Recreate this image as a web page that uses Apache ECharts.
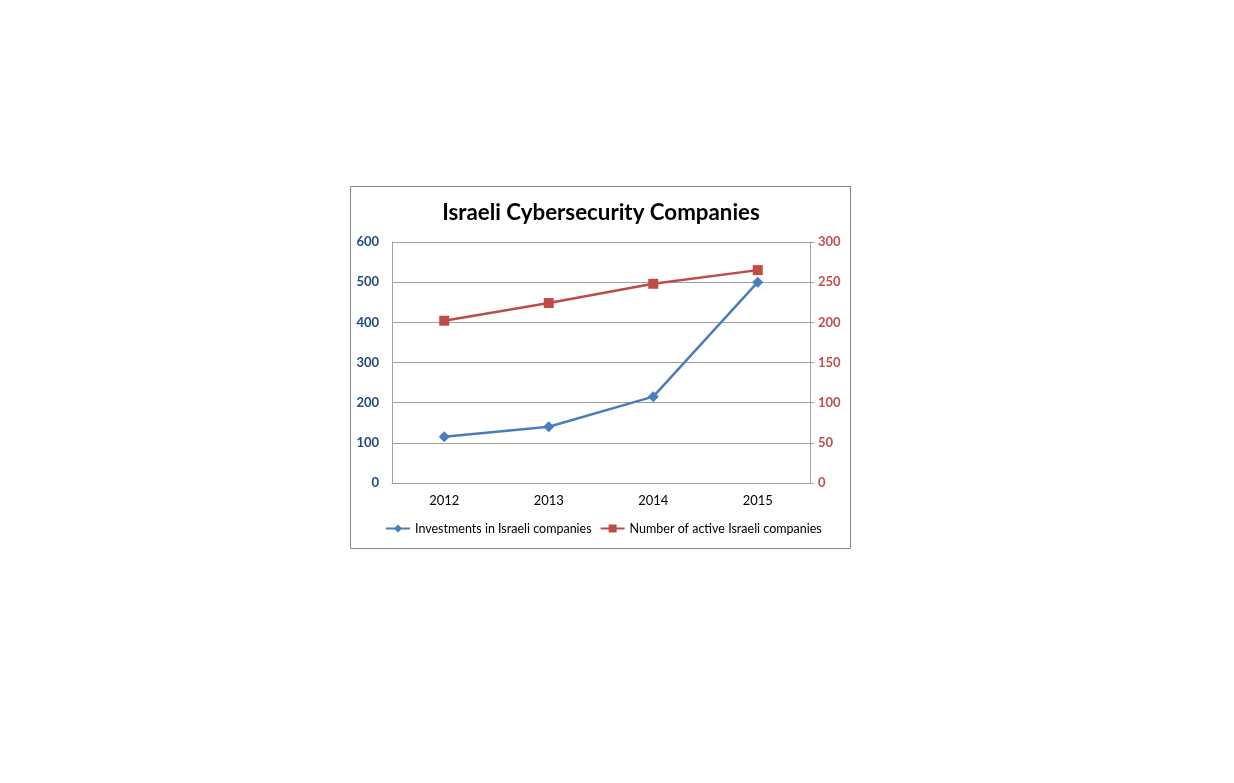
<!DOCTYPE html>
<html>
<head>
<meta charset="utf-8">
<script src="https://cdn.jsdelivr.net/npm/echarts@6/dist/echarts.min.js"></script>
<style>
  html, body { margin: 0; padding: 0; background: #fff; }
  #chart { width: 1234px; height: 783px; }
</style>
</head>
<body>
<div id="chart"></div>
<script>
'use strict';

var years = ['2012', '2013', '2014', '2015'];
var investments = [115, 140, 215, 500];
var activeCompanies = [202, 224, 248, 265];
var leftTicks = { min: 0, max: 600, interval: 100 };
var rightTicks = { min: 0, max: 300, interval: 50 };

var blue = '#4a7ebb';
var red = '#be4b48';
var font = 'Lato, "Open Sans", sans-serif';

var chart = echarts.init(document.getElementById('chart'));

chart.setOption({
  animation: false,
  backgroundColor: '#fff',
  textStyle: { fontFamily: font },
  graphic: [{
    type: 'rect',
    shape: { x: 350.5, y: 186.5, width: 500, height: 362 },
    style: { fill: 'none', stroke: '#868686', lineWidth: 1 },
    silent: true
  }],
  title: {
    text: 'Israeli Cybersecurity Companies',
    left: 596,
    top: 197,
    textAlign: 'center',
    textStyle: { fontFamily: font, fontSize: 22.3, fontWeight: 'bold', color: '#000' }
  },
  legend: {
    top: 517,
    left: 380,
    itemGap: 8,
    itemWidth: 24,
    itemHeight: 10,
    textStyle: { fontFamily: font, fontSize: 12.5, color: '#000' },
    data: ['Investments in Israeli companies', 'Number of active Israeli companies']
  },
  grid: { left: 392, right: 1234 - 810, top: 242, bottom: 783 - 483, containLabel: false },
  xAxis: {
    type: 'category',
    data: years,
    boundaryGap: true,
    axisLine: { lineStyle: { color: '#a0a0a0' } },
    axisTick: { show: false },
    axisLabel: { color: '#000', fontSize: 13, margin: 11 }
  },
  yAxis: [{
    type: 'value',
    min: leftTicks.min,
    max: leftTicks.max,
    interval: leftTicks.interval,
    axisLine: { show: true, lineStyle: { color: '#a0a0a0' } },
    axisTick: { show: false },
    splitLine: { lineStyle: { color: '#a0a0a0' } },
    axisLabel: { color: '#1f497d', fontWeight: 'bold', fontSize: 13, margin: 13 }
  }, {
    type: 'value',
    min: rightTicks.min,
    max: rightTicks.max,
    interval: rightTicks.interval,
    position: 'right',
    axisLine: { show: true, lineStyle: { color: '#a0a0a0' } },
    axisTick: { show: true, length: 4, lineStyle: { color: '#a0a0a0' } },
    splitLine: { show: false },
    axisLabel: { color: '#c0504d', fontWeight: 'bold', fontSize: 13, margin: 8 }
  }],
  series: [{
    name: 'Investments in Israeli companies',
    type: 'line',
    yAxisIndex: 0,
    data: investments,
    symbol: 'diamond',
    symbolSize: 11,
    itemStyle: { color: blue },
    lineStyle: { color: blue, width: 2.5 }
  }, {
    name: 'Number of active Israeli companies',
    type: 'line',
    yAxisIndex: 1,
    data: activeCompanies,
    symbol: 'rect',
    symbolSize: 10,
    itemStyle: { color: red },
    lineStyle: { color: red, width: 2.5 }
  }]
});
</script>
</body>
</html>
